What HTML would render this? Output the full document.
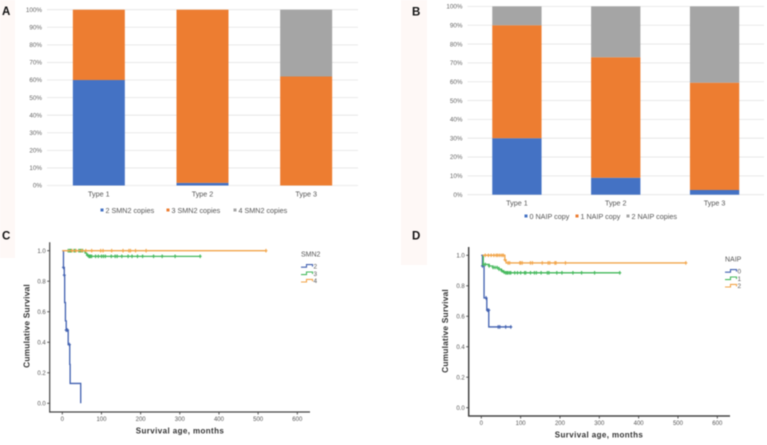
<!DOCTYPE html>
<html lang="en">
<head>
<meta charset="utf-8">
<title>SMN2 and NAIP copies by SMA type, with survival curves</title>
<style>
html,body{margin:0;padding:0;background:#fff;width:767px;height:445px;overflow:hidden}
svg{display:block;filter:blur(0.5px)}
text{font-family:"Liberation Sans",sans-serif}
</style>
</head>
<body>
<svg id="figure" xmlns="http://www.w3.org/2000/svg" width="767" height="445" viewBox="0 0 767 445">
  <rect x="0" y="0" width="15" height="258" fill="#fef8f6"/>
  <rect x="401" y="0" width="26" height="265" fill="#fef8f6"/>
  <text x="2" y="15.2" font-size="11.5" font-weight="bold" fill="#111">A</text>
  <text x="412" y="15.3" font-size="11.5" font-weight="bold" fill="#111">B</text>
  <text x="2" y="239.4" font-size="11.5" font-weight="bold" fill="#111">C</text>
  <text x="412" y="239.4" font-size="11.5" font-weight="bold" fill="#111">D</text>
</svg>
<script>
// ---------- Bar chart data ----------
const barCategories = ['Type 1', 'Type 2', 'Type 3'];
const pctTicks = [0, 10, 20, 30, 40, 50, 60, 70, 80, 90, 100];
const smn2Names = ['2 SMN2 copies', '3 SMN2 copies', '4 SMN2 copies'];
const smn2Copies2 = [60, 1.5, 0];
const smn2Copies3 = [40, 98.5, 62];
const smn2Copies4 = [0, 0, 38];
const naipNames = ['0 NAIP copy', '1 NAIP copy', '2 NAIP copies'];
const naipCopies0 = [30, 9, 2.5];
const naipCopies1 = [60, 64, 57];
const naipCopies2 = [10, 27, 40.5];

// ---------- Survival chart data ----------
const survivalXTicks = [0, 100, 200, 300, 400, 500, 600];
const survivalYTicks = [0, 0.2, 0.4, 0.6, 0.8, 1.0];

const c2Times = [0, 3, 5, 6, 8, 10, 15, 19, 20, 47];
const c2Surv = [1, 0.89, 0.84, 0.66, 0.54, 0.48, 0.385, 0.255, 0.13, 0];
const c2Censor = [3, 5, 10, 13, 18];
const c2CensorSurv = [0.89, 0.84, 0.48, 0.48, 0.385];
const c3Times = [12, 58, 62, 68, 352];
const c3Surv = [1, 0.985, 0.97, 0.963, 0.963];
const c3Censor = [15, 18, 20, 22, 30, 33, 42, 45, 48, 52, 65, 68, 70, 72, 75, 85, 92, 100, 105, 110, 125, 135, 140, 152, 168, 178, 192, 205, 233, 255, 288, 352];
const c4Times = [0, 520];
const c4Surv = [1, 1];
const c4Censor = [25, 35, 50, 60, 75, 98, 104, 126, 155, 170, 174, 187, 214, 520];

const d0Times = [0, 3, 7, 14, 19, 75];
const d0Surv = [1, 0.93, 0.72, 0.64, 0.53, 0.53];
const d0Censor = [3, 12, 16, 19, 43, 47, 62, 75];
const d0CensorSurv = [0.93, 0.72, 0.64, 0.64, 0.53, 0.53, 0.53, 0.53];
const d1Times = [3, 5, 20, 30, 45, 50, 55, 62, 352];
const d1Surv = [1, 0.94, 0.93, 0.92, 0.91, 0.9, 0.89, 0.885, 0.885];
const d1Censor = [5, 10, 20, 30, 35, 40, 45, 52, 58, 62, 65, 68, 72, 75, 85, 92, 100, 110, 113, 125, 135, 140, 152, 168, 172, 192, 205, 233, 255, 288, 352];
const d2Times = [3, 60, 63, 520];
const d2Surv = [1, 0.97, 0.95, 0.95];
const d2Censor = [10, 18, 25, 32, 38, 42, 47, 52, 56, 60, 68, 72, 98, 100, 104, 125, 130, 155, 170, 174, 187, 190, 214, 520];

const NS = 'http://www.w3.org/2000/svg';
const svg = document.getElementById('figure');
const BAR_COLORS = ['#4472c4', '#ed7d31', '#a5a5a5'];
const KM_COLORS = ['#4060b0', '#45b95c', '#f2a54a'];

function mk(tag, attrs, parent, text) {
  const el = document.createElementNS(NS, tag);
  for (const k in attrs) el.setAttribute(k, attrs[k]);
  if (text !== undefined) el.textContent = text;
  (parent || svg).appendChild(el);
  return el;
}

function drawBars(id, cfg, seriesNames, seriesValues) {
  const g = mk('g', {}, svg);
  
  
  const yPos = v => cfg.y0 + (cfg.y100 - cfg.y0) * v / 100;
  const step = (cfg.x1 - cfg.x0) / barCategories.length;
  const xCenter = i => cfg.x0 + step * (i + 0.5);

  pctTicks.forEach(t => {
    const line = mk('line', {x1: cfg.x0, x2: cfg.x1, y1: yPos(t), y2: yPos(t), stroke: '#e4e4e4', 'stroke-width': 0.8}, g);
    
    
    const label = mk('text', {x: cfg.x0 - 5, y: yPos(t) + 2.2, 'font-size': 6.3, fill: '#666', 'text-anchor': 'end'}, g, t + '%');
    
    
  });

  barCategories.forEach((cat, i) => {
    let acc = 0;
    seriesValues.forEach((vals, s) => {
      const v = vals[i];
      if (v > 0) {
        const top = yPos(acc + v);
        const bar = mk('rect', {x: xCenter(i) - cfg.barW / 2, y: top, width: cfg.barW, height: yPos(acc) - top, fill: BAR_COLORS[s]}, g);
        
        
      }
      acc += v;
    });
    const label = mk('text', {x: xCenter(i), y: cfg.y0 + cfg.catDy, 'font-size': 7.2, fill: '#555', 'text-anchor': 'middle'}, g, cat);
    
    
  });

  seriesNames.forEach((name, s) => {
    const lx = cfg.legendX[s];
    const swatch = mk('rect', {x: lx, y: cfg.legendY - 4.5, width: 3, height: 3, fill: BAR_COLORS[s]}, g);
    
    
    const label = mk('text', {x: lx + 5, y: cfg.legendY, 'font-size': 7.2, fill: '#555'}, g, name);
    
    
  });
}

function stepPath(times, surv, X, Y) {
  let d = 'M' + X(times[0]) + ' ' + Y(surv[0]);
  for (let i = 1; i < times.length; i++) {
    d += 'H' + X(times[i]) + 'V' + Y(surv[i]);
  }
  return d;
}

function survAt(times, surv, t) {
  let s = surv[0];
  for (let i = 0; i < times.length; i++) {
    if (times[i] <= t) s = surv[i];
  }
  return s;
}

function drawSurvival(id, cfg, series) {
  const g = mk('g', {}, svg);
  
  
  const X = v => cfg.x0 + (cfg.x600 - cfg.x0) * v / 600;
  const Y = v => cfg.y0 + (cfg.y1 - cfg.y0) * v;

  const yAxis = mk('line', {x1: cfg.axisX, x2: cfg.axisX, y1: cfg.axisTop, y2: cfg.axisY + 0.6, stroke: '#444', 'stroke-width': cfg.axisW}, g);
  
  
  const xAxis = mk('line', {x1: cfg.axisX, x2: cfg.axisRight, y1: cfg.axisY, y2: cfg.axisY, stroke: '#444', 'stroke-width': cfg.axisW}, g);
  
  

  survivalYTicks.forEach(t => {
    const tick = mk('line', {x1: cfg.axisX - 2.5, x2: cfg.axisX, y1: Y(t), y2: Y(t), stroke: '#444', 'stroke-width': 0.9}, g);
    
    
    const label = mk('text', {x: cfg.axisX - 4, y: Y(t) + 2.2, 'font-size': 6, fill: '#555', 'text-anchor': 'end'}, g, t.toFixed(1));
    
    
  });
  survivalXTicks.forEach(t => {
    const tick = mk('line', {x1: X(t), x2: X(t), y1: cfg.axisY, y2: cfg.axisY + 2.5, stroke: '#444', 'stroke-width': 0.9}, g);
    
    
    const label = mk('text', {x: X(t), y: cfg.axisY + 9, 'font-size': 6, fill: '#555', 'text-anchor': 'middle'}, g, t);
    
    
  });

  const xTitle = mk('text', {x: cfg.xTitleX, y: cfg.axisY + 21.5, 'font-size': 8, 'font-weight': 'bold', fill: '#333', 'text-anchor': 'middle', 'letter-spacing': 0.4}, g, 'Survival age, months');
  
  
  const yTitle = mk('text', {transform: 'translate(' + cfg.yTitleX + ' ' + cfg.yTitleY + ') rotate(-90)', 'font-size': 8.4, 'font-weight': 'bold', fill: '#333', 'text-anchor': 'middle', 'letter-spacing': 0.2}, g, 'Cumulative Survival');
  
  

  series.forEach(s => {
    const path = mk('path', {d: stepPath(s.times, s.surv, X, Y), fill: 'none', stroke: s.color, 'stroke-width': 1.3}, g);
    
    
    s.censor.forEach((t, i) => {
      const sv = s.censorSurv ? s.censorSurv[i] : survAt(s.times, s.surv, t);
      const mark = mk('path', {d: 'M' + (X(t) - 1.5) + ' ' + Y(sv) + 'h3M' + X(t) + ' ' + (Y(sv) - 1.8) + 'v3.6', fill: 'none', stroke: s.color, 'stroke-width': 1.1}, g);
      
      
    });
  });

  const title = mk('text', {x: cfg.legX, y: cfg.legTitleY, 'font-size': 7, fill: '#555'}, g, cfg.legTitle);
  
  
  series.forEach((s, i) => {
    const ly = cfg.legY + i * 7.4;
    const key = mk('path', {d: 'M' + cfg.legX + ' ' + (ly + 1.2) + 'h5.5v-2.6h6v2', fill: 'none', stroke: s.color, 'stroke-width': 1.1}, g);
    
    
    const label = mk('text', {x: cfg.legX + 12.5, y: ly + 2.4, 'font-size': 6.4, fill: '#555'}, g, s.label);
    
    
  });
}

drawBars('chart-a-smn2-copies', {x0: 47, x1: 358, y0: 185.5, y100: 9.7, barW: 52, catDy: 11, legendX: [100.5, 166.5, 233.5], legendY: 213},
  smn2Names, [smn2Copies2, smn2Copies3, smn2Copies4]);
drawBars('chart-b-naip-copies', {x0: 467.5, x1: 764, y0: 194.7, y100: 6.4, barW: 49.3, catDy: 11, legendX: [524.5, 575.5, 626.5], legendY: 219},
  naipNames, [naipCopies0, naipCopies1, naipCopies2]);

drawSurvival('chart-c-survival-smn2', {x0: 62.3, x600: 297.3, y0: 403.3, y1: 250.7, axisX: 49.7, axisTop: 242.3, axisY: 412, axisRight: 310, axisW: 1.2,
  xTitleX: 180, yTitleX: 29.5, yTitleY: 326, legX: 301, legTitle: 'SMN2', legTitleY: 256.5, legY: 266}, [
  {times: c2Times, surv: c2Surv, censor: c2Censor, censorSurv: c2CensorSurv, color: KM_COLORS[0], label: '2'},
  {times: c3Times, surv: c3Surv, censor: c3Censor, color: KM_COLORS[1], label: '3'},
  {times: c4Times, surv: c4Surv, censor: c4Censor, color: KM_COLORS[2], label: '4'}
]);
drawSurvival('chart-d-survival-naip', {x0: 481.3, x600: 717.3, y0: 407.7, y1: 255.3, axisX: 468.7, axisTop: 247, axisY: 416, axisRight: 730, axisW: 1.5,
  xTitleX: 599, yTitleX: 448, yTitleY: 331, legX: 725, legTitle: 'NAIP', legTitleY: 261.5, legY: 271}, [
  {times: d0Times, surv: d0Surv, censor: d0Censor, censorSurv: d0CensorSurv, color: KM_COLORS[0], label: '0'},
  {times: d1Times, surv: d1Surv, censor: d1Censor, color: KM_COLORS[1], label: '1'},
  {times: d2Times, surv: d2Surv, censor: d2Censor, color: KM_COLORS[2], label: '2'}
]);
</script>
</body>
</html>
